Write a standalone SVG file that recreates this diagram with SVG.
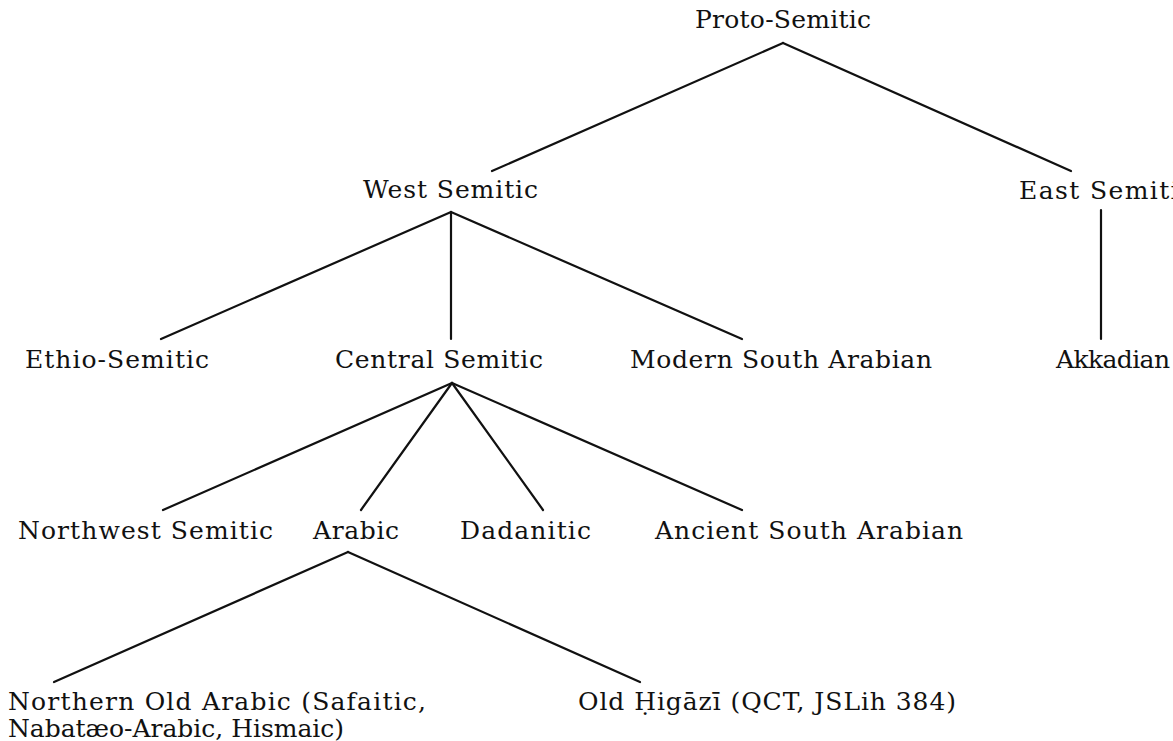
<svg xmlns="http://www.w3.org/2000/svg" width="1173" height="741" viewBox="0 0 1173 741">
<style>
text{font-family:"DejaVu Serif","Liberation Serif",serif;font-size:25px;fill:#111}
.c line{stroke:#111;stroke-width:2.2;stroke-linecap:round}
</style>
<rect width="1173" height="741" fill="#fff"/>
<g class="c" id="connectors">
<line x1="783" y1="43" x2="492" y2="171"/>
<line x1="783" y1="43" x2="1071" y2="171"/>
<line x1="451" y1="212" x2="161" y2="339"/>
<line x1="451" y1="212" x2="451" y2="339"/>
<line x1="451" y1="212" x2="742" y2="339"/>
<line x1="1101" y1="210" x2="1101" y2="339"/>
<line x1="452" y1="383" x2="163" y2="510"/>
<line x1="452" y1="383" x2="361" y2="510"/>
<line x1="452" y1="383" x2="543" y2="510"/>
<line x1="452" y1="383" x2="742" y2="510"/>
<line x1="348" y1="552" x2="54" y2="682"/>
<line x1="348" y1="552" x2="640" y2="682"/>
</g>
<g id="proto"><text x="695" y="28" textLength="176" lengthAdjust="spacing">Proto-Semitic</text></g>
<g id="west"><text x="363" y="198" textLength="175" lengthAdjust="spacing">West Semitic</text></g>
<g id="east"><text x="1019" y="199" textLength="175" lengthAdjust="spacing">East Semitic</text></g>
<g id="ethio"><text x="25" y="368" textLength="184" lengthAdjust="spacing">Ethio-Semitic</text></g>
<g id="central"><text x="335" y="368" textLength="208" lengthAdjust="spacing">Central Semitic</text></g>
<g id="msa"><text x="630" y="368" textLength="302" lengthAdjust="spacing">Modern South Arabian</text></g>
<g id="akkadian"><text x="1056" y="368" textLength="114" lengthAdjust="spacing">Akkadian</text></g>
<g id="northwest"><text x="18" y="539" textLength="255" lengthAdjust="spacing">Northwest Semitic</text></g>
<g id="arabic"><text x="313" y="539" textLength="86" lengthAdjust="spacing">Arabic</text></g>
<g id="dadanitic"><text x="460" y="539" textLength="131" lengthAdjust="spacing">Dadanitic</text></g>
<g id="asa"><text x="655" y="539" textLength="308" lengthAdjust="spacing">Ancient South Arabian</text></g>
<g id="noa">
<text x="8" y="710" textLength="418" lengthAdjust="spacing">Northern Old Arabic (Safaitic,</text>
<text x="8" y="737" textLength="336" lengthAdjust="spacing">Nabatæo-Arabic, Hismaic)</text>
</g>
<g id="hijazi"><text x="578" y="710" textLength="378" lengthAdjust="spacing">Old Ḥigāzī (QCT, JSLih 384)</text></g>
</svg>
